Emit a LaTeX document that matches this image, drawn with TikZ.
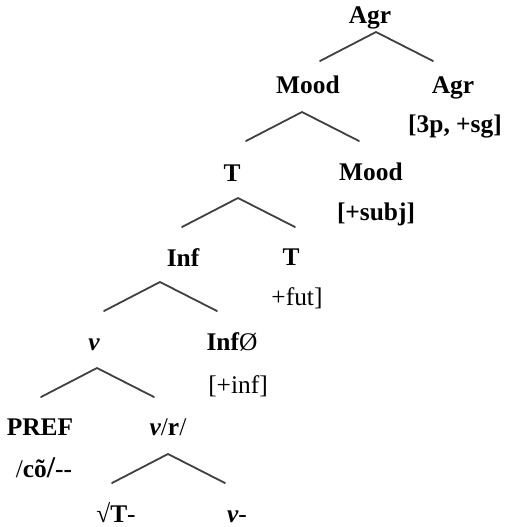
\documentclass[tikz,border=0pt]{standalone}
\usepackage{fontspec}
\setmainfont{Liberation Serif}
\definecolor{branchcolor}{RGB}{64,64,64}

\begin{document}
\begin{tikzpicture}[x=0.5pt, y=-0.5pt, line cap=round, line join=round,
		lbl/.style={anchor=base, inner sep=0pt, font=\fontsize{12.7}{15}\selectfont\bfseries},
		branch/.style={color=branchcolor, line width=0.9pt}]
		
		\useasboundingbox (0,0) rectangle (507,527);
		
		% Etiquetas de los nudos
		\node[lbl] (agr)   at (370,23)  {Agr};
		\node[lbl] (mood)  at (308,93)  {Mood};
		\node[lbl] (agrR)  at (453,93)  {Agr};
		\node[lbl] (fagr)  at (455,132) {[3p, +sg]};
		\node[lbl] (t)     at (232,181) {T};
		\node[lbl] (moodR) at (371,180) {Mood};
		\node[lbl] (fmood) at (376,220) {[+subj]};
		\node[lbl] (inf)   at (183,266) {Inf};
		\node[lbl] (tR)    at (291,265) {T};
		\node[lbl] (ft)    at (297,305) {\mdseries +fut]};
		\node[lbl] (v)     at (94,350)  {\itshape v};
		\node[lbl] (infR)  at (232,350) {Inf{\mdseries Ø}};
		\node[lbl] (finf)  at (238,393) {\mdseries [+inf]};
		\node[lbl] (pref)  at (40,435)  {PREF};
		\node[lbl] (vr)    at (168,435) {{\itshape v}{\mdseries /}r{\mdseries /}};
		\node[lbl] (fpref) at (44,477)  {{\mdseries /}cõ{\fontsize{15}{15}\selectfont /}-{}-};
		\node[lbl] (root)  at (116,522) {{\mdseries √}T{\mdseries -}};
		\node[lbl] (vR)    at (237,522) {{\itshape v}{\mdseries -}};
		
		% Ramas: vértice y extremos
		\foreach \n/\ax/\ay in {1/376/32, 2/302/112, 3/238/198, 4/160/282, 5/97/368, 6/168/454}
		{
			\coordinate (a\n) at (\ax,\ay);
			\coordinate (l\n) at (\ax-56,\ay+29);
			\coordinate (r\n) at (\ax+57,\ay+29);
			\draw[branch] (l\n) -- (a\n) -- (r\n);
		}
		
	\end{tikzpicture}
\end{document}
